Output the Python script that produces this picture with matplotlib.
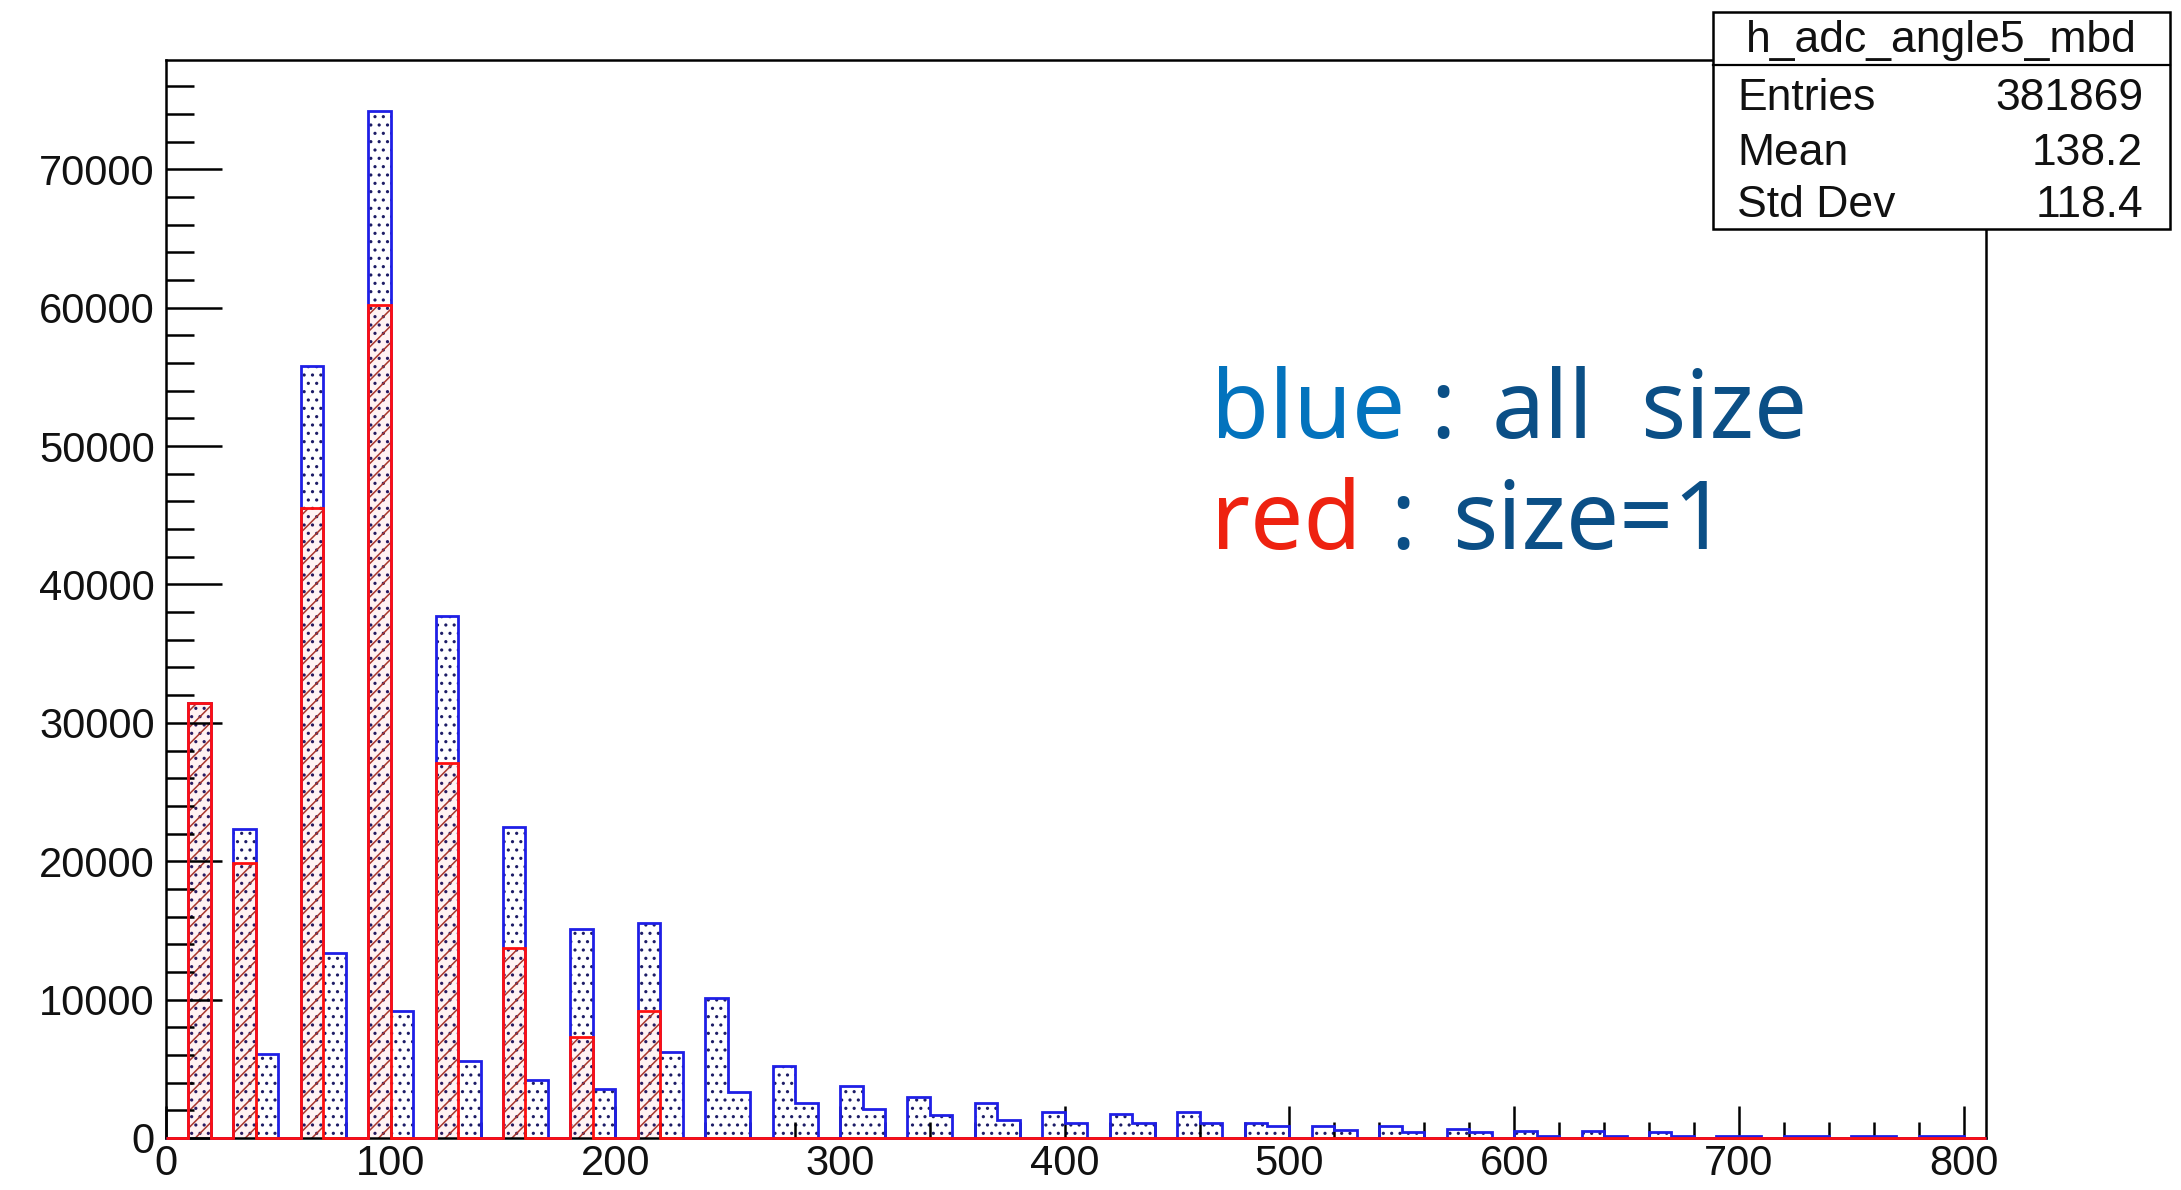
import numpy as np
import matplotlib
matplotlib.use("Agg")
import matplotlib.pyplot as plt
from matplotlib.patches import Rectangle
from matplotlib.lines import Line2D
from matplotlib.ticker import MultipleLocator

plt.rcParams['font.family'] = ['Liberation Sans', 'DejaVu Sans']
plt.rcParams['hatch.linewidth'] = 1.1

# histogram h_adc_angle5_mbd : 81 bins from 0 to 810
bin_edges = np.arange(0, 820, 10)

# blue : all cluster sizes
blue_counts = [
    0, 31400, 0, 22300, 6050, 0, 55800, 13400, 0, 74200,
    9150, 0, 37700, 5600, 0, 22500, 4200, 0, 15100, 3550,
    0, 15500, 6200, 0, 10100, 3350, 0, 5200, 2500, 0,
    3750, 2100, 0, 2950, 1650, 0, 2500, 1300, 0, 1900,
    1050, 0, 1700, 1050, 0, 1900, 1100, 0, 1050, 850,
    0, 900, 600, 0, 850, 460, 0, 650, 410, 0,
    480, 150, 0, 480, 150, 0, 450, 140, 0, 130,
    130, 0, 120, 120, 0, 120, 120, 0, 110, 110,
    0,
]

# red : size = 1
red_counts = [
    0, 31400, 0, 19900, 0, 0, 45500, 0, 0, 60200,
    0, 0, 27100, 0, 0, 13700, 0, 0, 7300, 0,
    0, 9200, 0, 0, 0, 0, 0, 0, 0, 0,
] + [0] * 51

stats_title = 'h_adc_angle5_mbd'
stats_rows = [('Entries', '381869'), ('Mean', '138.2'), ('Std Dev', '118.4')]

fig = plt.figure(figsize=(21.81, 11.90), dpi=100)
ax = fig.add_axes([0.0761, 0.0437, 0.8345, 0.9059])

# blue histogram: dotted fill + outline
ax.stairs(blue_counts, bin_edges, fill=True, facecolor='white', edgecolor='#1c1c66',
          hatch='..', linewidth=0, zorder=1)
ax.stairs(blue_counts, bin_edges, baseline=0, color='#1f1fe6', linewidth=2.0,
          zorder=2.8, clip_on=False)

# red histogram: hatched fill + outline
ax.stairs(red_counts, bin_edges, fill=True, facecolor=(1, 0, 0, 0.05), edgecolor='#a8362c',
          hatch='//', linewidth=0, zorder=1.5)
ax.stairs(red_counts, bin_edges, baseline=0, color='#ff1010', linewidth=2.0,
          zorder=3, clip_on=False)

ax.set_xlim(0, 810)
ax.set_ylim(0, 77900)

ax.xaxis.set_major_locator(MultipleLocator(100))
ax.xaxis.set_minor_locator(MultipleLocator(20))
ax.yaxis.set_major_locator(MultipleLocator(10000))
ax.yaxis.set_minor_locator(MultipleLocator(2000))

ax.tick_params(axis='both', which='both', direction='in', top=False, right=False,
               width=1.8, colors='black', labelsize=30, labelcolor='#111111')
ax.tick_params(axis='y', which='major', length=40, pad=8)
ax.tick_params(axis='y', which='minor', length=20)
ax.tick_params(axis='x', which='major', length=23, pad=4)
ax.tick_params(axis='x', which='minor', length=11.5)

for sp in ax.spines.values():
    sp.set_linewidth(1.8)
    sp.set_color('black')

# stats box (ROOT style)
x0, x1 = 0.7854, 0.9950
y0, y1 = 0.8076, 0.9899
fig.add_artist(Rectangle((x0, y0), x1 - x0, y1 - y0, transform=fig.transFigure,
                         facecolor='white', edgecolor='black', linewidth=1.8, zorder=5))
fig.add_artist(Line2D([x0, x1], [0.9454, 0.9454], transform=fig.transFigure,
                      color='black', linewidth=1.6, zorder=6))
fig.text((x0 + x1) / 2, 0.966, stats_title, ha='center', va='center', fontsize=32,
         color='#111111', zorder=7)
row_y = [0.9172, 0.8712, 0.8272]
for (name, val), yy in zip(stats_rows, row_y):
    fig.text(0.7964, yy, name, ha='left', va='center', fontsize=32, color='#111111', zorder=7)
    fig.text(0.9826, yy, val, ha='right', va='center', fontsize=32, color='#111111', zorder=7)

# annotation
note_font = ['Noto Sans', 'DejaVu Sans']
dark_blue = '#0b4f86'
fig.text(1211 / 2181, 0.632, 'blue', color='#0373bd', fontsize=68, family=note_font, va='baseline')
fig.text(1443 / 2181, 0.632, ':', color=dark_blue, fontsize=68, family=note_font, va='baseline', ha='center')
fig.text(1492 / 2181, 0.632, 'all', color=dark_blue, fontsize=68, family=note_font, va='baseline')
fig.text(1640 / 2181, 0.632, 'size', color=dark_blue, fontsize=68, family=note_font, va='baseline')
fig.text(1211 / 2181, 0.5387, 'red', color='#ee2210', fontsize=68, family=note_font, va='baseline')
fig.text(1403 / 2181, 0.5387, ':', color=dark_blue, fontsize=68, family=note_font, va='baseline', ha='center')
fig.text(1452 / 2181, 0.5387, 'size=1', color=dark_blue, fontsize=68, family=note_font, va='baseline')

fig.savefig('out.png', dpi=100)
